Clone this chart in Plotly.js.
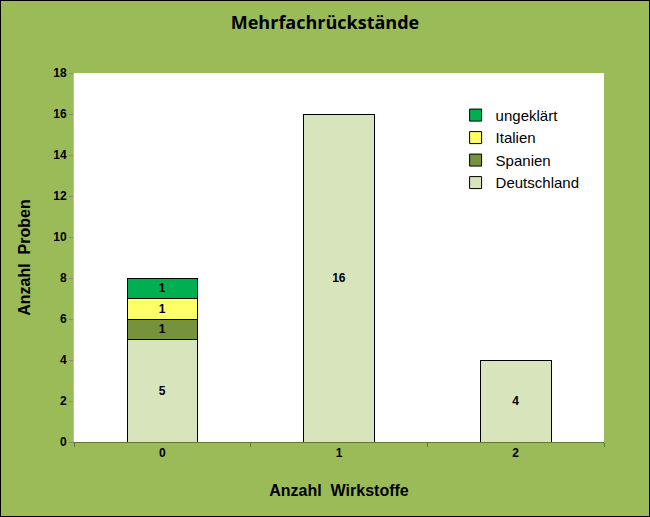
<!DOCTYPE html>
<html>
<head>
<meta charset="utf-8">
<script src="https://cdn.plot.ly/plotly-3.0.1.min.js"></script>
<style>
html,body{margin:0;padding:0;background:#9BBB59;}
#chart{width:648px;height:515px;border:1px solid #000;}
</style>
</head>
<body>
<div id="chart"></div>
<script>
const categories = ['0', '1', '2'];
const deutschland = [5, 16, 4];
const spanien = [1, null, null];
const italien = [1, null, null];
const ungeklaert = [1, null, null];
const seriesNames = ['Deutschland', 'Spanien', 'Italien', 'ungeklärt'];
const seriesColors = ['#D7E4BC', '#76923C', '#FFFF66', '#00B050'];
const seriesValues = [deutschland, spanien, italien, ungeklaert];

const traces = seriesValues.map((vals, i) => ({
  type: 'bar',
  name: seriesNames[i],
  x: categories,
  y: vals,
  text: vals.map(v => v == null ? '' : String(v)),
  textposition: 'inside',
  insidetextanchor: 'middle',
  textangle: 0,
  textfont: {family: 'Liberation Sans, Arial, sans-serif', size: 12, color: '#000', weight: 'bold'},
  constraintext: 'none',
  marker: {color: seriesColors[i], line: {color: '#000', width: 1}},
  width: 0.4,
  hoverinfo: 'none'
}));

const layout = {
  width: 648, height: 515,
  paper_bgcolor: '#9BBB59',
  plot_bgcolor: '#FFFFFF',
  margin: {l: 73, r: 45, t: 72, b: 74},
  barmode: 'stack',
  showlegend: true,
  title: {
    text: '<b>Mehrfachrückstände</b>',
    font: {family: 'Open Sans, sans-serif', size: 18, color: '#000'},
    x: 0.5, xanchor: 'center', y: 0.957, yanchor: 'middle'
  },
  xaxis: {
    type: 'category',
    tickson: 'boundaries',
    ticks: 'outside', ticklen: 4, tickcolor: '#5f7a2e',
    showline: true, linecolor: '#5f7a2e', linewidth: 1,
    showgrid: false, zeroline: false,
    tickfont: {family: 'Liberation Sans, Arial, sans-serif', size: 12, color: '#000', weight: 'bold'},
    title: {text: '<b>Anzahl  Wirkstoffe</b>', font: {family: 'Liberation Sans, Arial, sans-serif', size: 16, color: '#000'}, standoff: 25}
  },
  yaxis: {
    range: [0, 18], dtick: 2,
    ticks: 'outside', ticklen: 4, tickcolor: '#888',
    showline: true, linecolor: '#bbbbbb', linewidth: 1,
    showgrid: false, zeroline: false,
    tickfont: {family: 'Liberation Sans, Arial, sans-serif', size: 12, color: '#000', weight: 'bold'},
    title: {text: '<b>Anzahl  Proben</b>', font: {family: 'Liberation Sans, Arial, sans-serif', size: 16, color: '#000'}, standoff: 18}
  },
  legend: {
    x: 0.72, xanchor: 'left', y: 0.93, yanchor: 'top',
    traceorder: 'reversed',
    bgcolor: 'rgba(0,0,0,0)',
    font: {family: 'Liberation Sans, Arial, sans-serif', size: 15, color: '#000'},
    itemwidth: 30, tracegroupgap: 0
  }
};

Plotly.newPlot('chart', traces, layout, {displayModeBar: false, staticPlot: true});
</script>
</body>
</html>
